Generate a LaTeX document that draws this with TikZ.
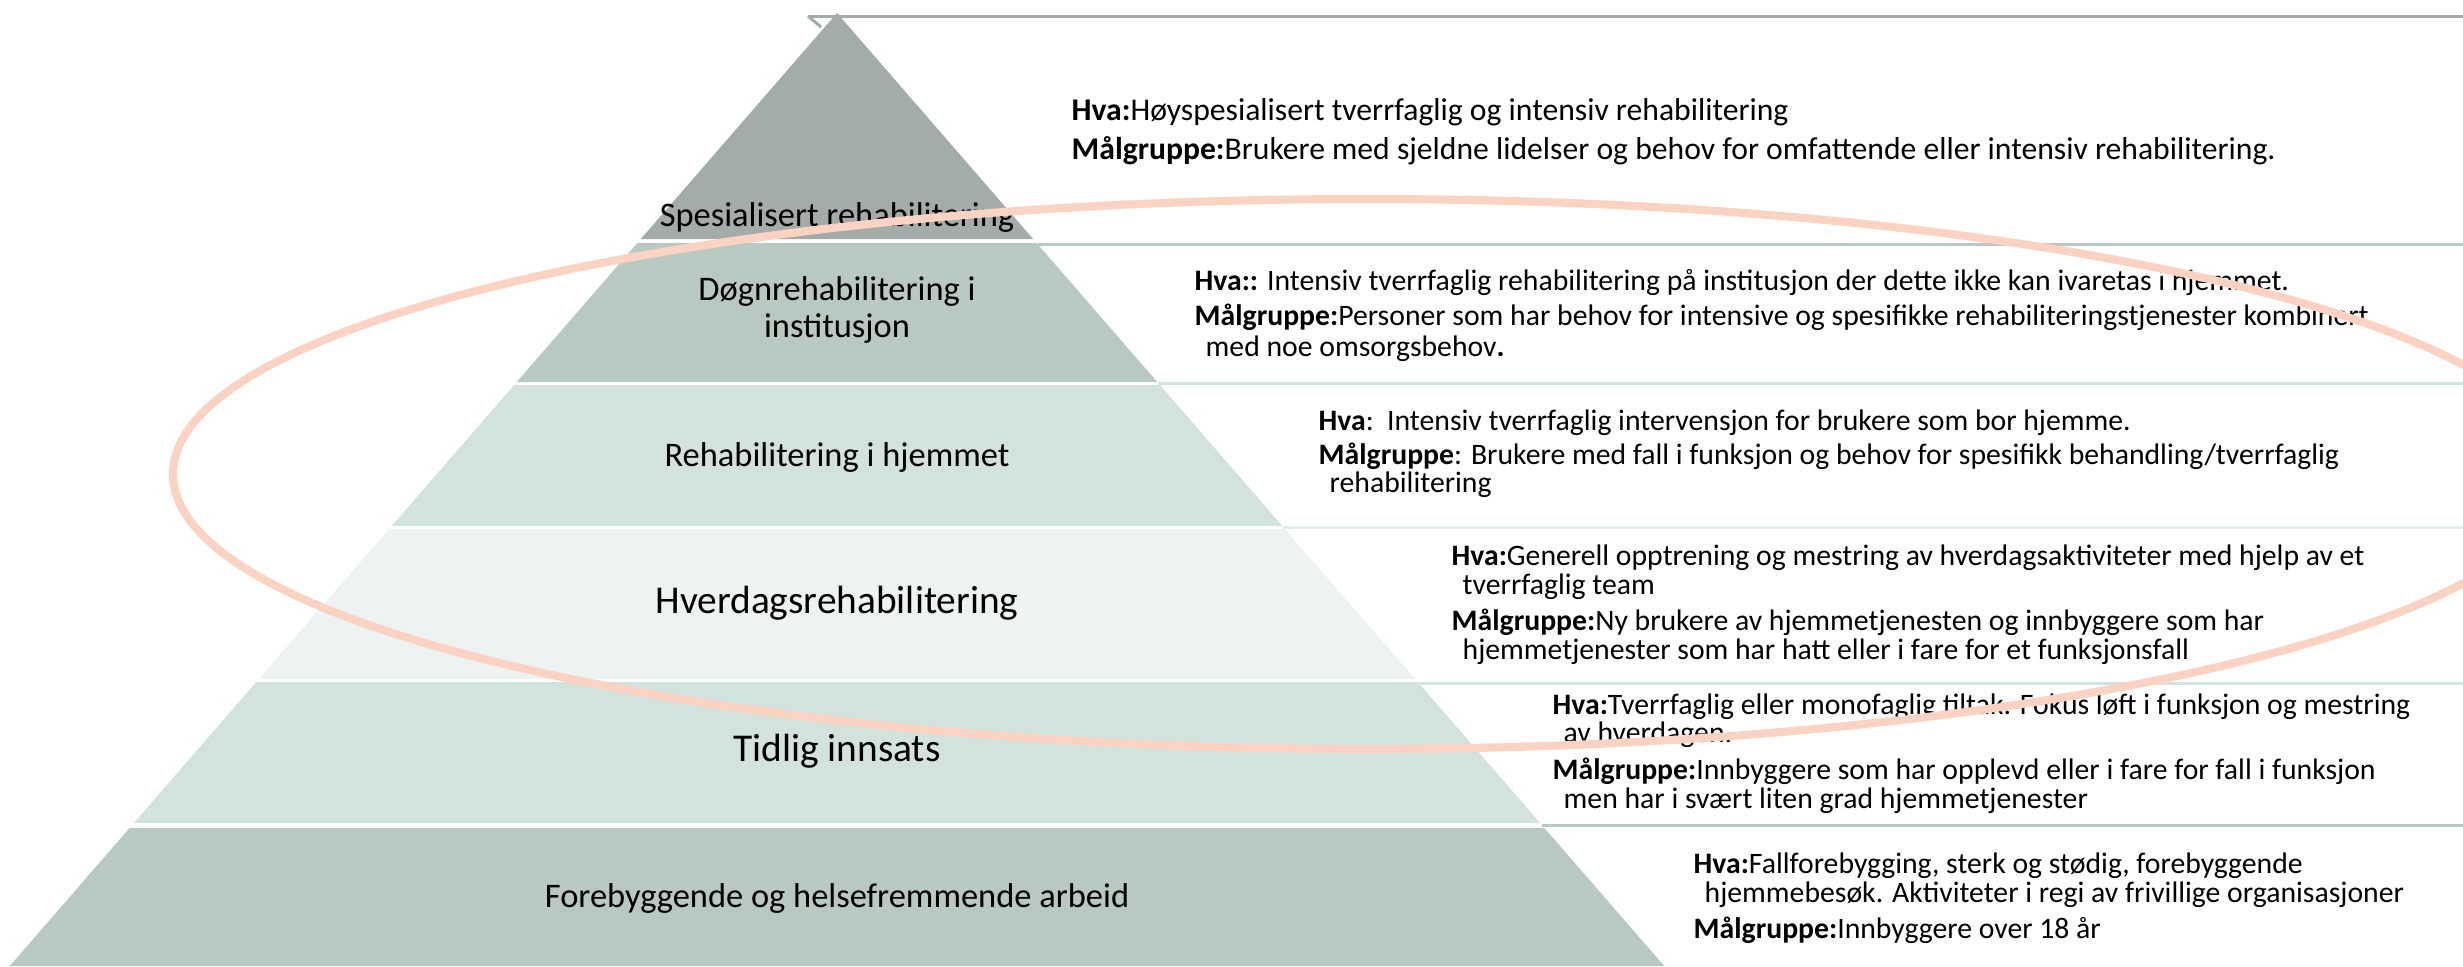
\documentclass[tikz,border=0pt]{standalone}
\usepackage{fontspec}
\setmainfont{Carlito}
\definecolor{tiergray}{HTML}{A3ACA8}
\definecolor{tierdark}{HTML}{B8C9C1}
\definecolor{tiermid}{HTML}{D2E2DC}
\definecolor{tierlight}{HTML}{EDF3F1}
\definecolor{ringpeach}{HTML}{FCD2C3}
\begin{document}
\begin{tikzpicture}[x=0.01cm,y=-0.01cm,
  tiertext/.style={inner sep=0pt,align=center,font=\fontsize{9.8}{10.3}\selectfont},
  tierbig/.style={inner sep=0pt,font=\fontsize{11.2}{13}\selectfont},
  info/.style={anchor=west,inner sep=0pt,font=\fontsize{8.45}{9.6}\selectfont},
  infotop/.style={info,font=\fontsize{9}{10}\selectfont},
  rule/.style={line width=0.85pt}]
\useasboundingbox (0,0) rectangle (2463,966);
\clip (0,0) rectangle (2463,966);
% rules to the right of the tiers
\draw[rule,tiergray] (808,16) -- (2463,16);
\draw[rule,tiergray] (808,16) -- (821,27);
\draw[rule,tierdark] (1038,244) -- (2463,244);
\draw[rule,tiermid] (1158,383) -- (2463,383);
\draw[rule,tierlight!60!tiermid] (1283,527) -- (2463,527);
\draw[rule,tiermid] (1419,683) -- (2463,683);
\draw[rule,tierdark] (1542,825) -- (2463,825);
% the tiers
\fill[tiergray] (837,13) -- (1033.2,239) -- (640.8,239) -- cycle;
\fill[tierdark] (637.4,243) -- (1036.6,243) -- (1157.3,382) -- (516.7,382) -- cycle;
\fill[tiermid] (514.1,385) -- (1159.9,385) -- (1282.3,526) -- (391.7,526) -- cycle;
\fill[tierlight] (389.1,529) -- (1284.9,529) -- (1415.1,679) -- (258.9,679) -- cycle;
\fill[tiermid] (256.3,682) -- (1417.7,682) -- (1540.1,823) -- (133.9,823) -- cycle;
\fill[tierdark] (129.6,828) -- (1544.4,828) -- (1664.2,966) -- (9.8,966) -- cycle;
\node[tiertext] (spes) at (837,217) {Spesialisert rehabilitering};
\node[tiertext] (dogn) at (837,310) {Døgnrehabilitering i\\institusjon};
\node[tiertext] (hjem) at (837,457) {Rehabilitering i hjemmet};
\node[tierbig] (hverdag) at (837,603) {Hverdagsrehabilitering};
\node[tierbig] (tidlig) at (837,751) {Tidlig innsats};
\node[tiertext] (forebygg) at (837,898) {Forebyggende og helsefremmende arbeid};
% what and who, per tier
\node[infotop] (hvaA) at (1071,112) {\textbf{Hva:}Høyspesialisert tverrfaglig og intensiv rehabilitering};
\node[infotop] (malA) at (1071,151) {\textbf{Målgruppe:}Brukere med sjeldne lidelser og behov for omfattende eller intensiv rehabilitering.};
\node[info] (hvaB) at (1194,283) {\textbf{Hva::} Intensiv tverrfaglig rehabilitering på institusjon der dette ikke kan ivaretas i hjemmet.};
\node[info] (malB) at (1194,317) {\textbf{Målgruppe:}Personer som har behov for intensive og spesifikke rehabiliteringstjenester kombinert};
\node[info] (malBb) at (1205,349) {med noe omsorgsbehov\textbf{.}};
\node[info] (hvaC) at (1318,423) {\textbf{Hva}:\ \ Intensiv tverrfaglig intervensjon for brukere som bor hjemme.};
\node[info] (malC) at (1318,456) {\textbf{Målgruppe}: Brukere med fall i funksjon og behov for spesifikk behandling/tverrfaglig};
\node[info] (malCb) at (1329,485) {rehabilitering};
\node[info] (hvaD) at (1451,558) {\textbf{Hva:}Generell opptrening og mestring av hverdagsaktiviteter med hjelp av et};
\node[info] (hvaDb) at (1462,587) {tverrfaglig team};
\node[info] (malD) at (1451,622) {\textbf{Målgruppe:}Ny brukere av hjemmetjenesten og innbyggere som har};
\node[info] (malDb) at (1462,652) {hjemmetjenester som har hatt eller i fare for et funksjonsfall};
\node[info] (hvaE) at (1552,707) {\textbf{Hva:}Tverrfaglig eller monofaglig tiltak. Fokus løft i funksjon og mestring};
\node[info] (hvaEb) at (1563,735) {av hverdagen.};
\node[info] (malE) at (1552,771) {\textbf{Målgruppe:}Innbyggere som har opplevd eller i fare for fall i funksjon};
\node[info] (malEb) at (1563,801) {men har i svært liten grad hjemmetjenester};
\node[info] (hvaF) at (1693,866) {\textbf{Hva:}Fallforebygging, sterk og stødig, forebyggende};
\node[info] (hvaFb) at (1704,895) {hjemmebesøk. Aktiviteter i regi av frivillige organisasjoner};
\node[info] (malF) at (1693,930) {\textbf{Målgruppe:}Innbyggere over 18 år};
% ring over the middle tiers
\draw[ringpeach,line width=2.3pt] (1367,474) ellipse [x radius=1194,y radius=275];
\end{tikzpicture}
\end{document}
